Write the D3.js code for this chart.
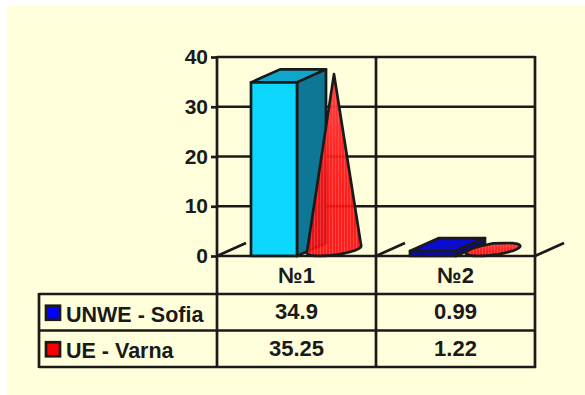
<!DOCTYPE html>
<html>
<head>
<meta charset="utf-8">
<script src="https://cdn.jsdelivr.net/npm/d3@7/dist/d3.min.js"></script>
<style>
  html, body { margin: 0; padding: 0; background: #fff; }
  svg { display: block; }
  text { font-family: "Liberation Sans", Arial, sans-serif; font-weight: 700; fill: #1a1a1a; }
</style>
</head>
<body>
<div id="chart"></div>
<script>
// data
const categories = ["№1", "№2"];
const seriesNames = ["UNWE - Sofia", "UE - Varna"];
const unweValues = [34.9, 0.99];
const varnaValues = [35.25, 1.22];
const cellLabels = [["34.9", "0.99"], ["35.25", "1.22"]];
const yTicks = [0, 10, 20, 30, 40];

const W = 585, H = 395;
const ink = "#1a1a1a";
const lw = 2.7;

const svg = d3.select("#chart").append("svg").attr("width", W).attr("height", H);

// background panel
svg.append("rect").attr("x", 7).attr("y", 6).attr("width", W - 7).attr("height", H - 6).attr("fill", "#ffffdc");

const defs = svg.append("defs");

// vertical stripes on the cones
const stripes = defs.append("pattern")
  .attr("id", "coneStripes")
  .attr("patternUnits", "userSpaceOnUse")
  .attr("width", 3).attr("height", 4);
stripes.append("rect").attr("width", 3).attr("height", 4).attr("fill", "#fa0808");
stripes.append("rect").attr("x", 2).attr("width", 1).attr("height", 4).attr("fill", "#ff3434");

const coneGlow = defs.append("linearGradient")
  .attr("id", "coneGlow")
  .attr("x1", 0).attr("y1", 0).attr("x2", 0).attr("y2", 1);
coneGlow.append("stop").attr("offset", "0%").attr("stop-color", "#ff6060").attr("stop-opacity", 0.7);
coneGlow.append("stop").attr("offset", "60%").attr("stop-color", "#ff3030").attr("stop-opacity", 0.15);
coneGlow.append("stop").attr("offset", "100%").attr("stop-color", "#ff0000").attr("stop-opacity", 0);

// scales
const x0 = d3.scaleBand().domain(categories).range([217, 535]);
const y = d3.scaleLinear().domain([0, 40]).range([256, 57]);
const xInner = d3.scaleBand().domain(seriesNames).range([34, 144]);

const barW = 46;
const depthX = 29, depthY = 13;   // oblique offset of the 3d floor
const tableBottom = 367;
const rowY = d3.scaleBand().domain(seriesNames).range([294, tableBottom]);

// gridlines
svg.append("g").selectAll("line")
  .data(yTicks.filter(d => d > 0))
  .enter().append("line")
  .attr("x1", x0.range()[0]).attr("x2", x0.range()[1])
  .attr("y1", d => y(d)).attr("y2", d => y(d))
  .attr("stroke", ink).attr("stroke-width", lw);

// floor stubs at each column boundary
const columnEdges = categories.map(c => x0(c)).concat(x0.range()[1]);
svg.append("g").selectAll("line")
  .data(columnEdges)
  .enter().append("line")
  .attr("x1", d => d).attr("y1", y(0))
  .attr("x2", d => d + depthX).attr("y2", y(0) - depthY)
  .attr("stroke", ink).attr("stroke-width", lw);

// column + table verticals
svg.append("g").selectAll("line")
  .data(columnEdges)
  .enter().append("line")
  .attr("x1", d => d).attr("x2", d => d)
  .attr("y1", y(40) - 1).attr("y2", tableBottom + 1)
  .attr("stroke", ink).attr("stroke-width", lw);

// y axis ticks + labels
const yAxis = svg.append("g")
  .attr("transform", `translate(${x0.range()[0]},0)`)
  .call(d3.axisLeft(y).tickValues(yTicks).tickSize(6).tickPadding(3));
yAxis.select(".domain").remove();
yAxis.selectAll("line").attr("stroke", ink).attr("stroke-width", lw);
yAxis.selectAll("text").attr("font-size", 21).attr("fill", ink).attr("font-family", '"Liberation Sans", Arial, sans-serif');

// boxes, first series
const boxColors = [
  { front: "#0cd8ff", top: "#0fa6cc", side: "#0f7796" },
  { front: "#0000f5", top: "#0c0ccc", side: "#0a0a9a" }
];
const boxes = svg.append("g");
categories.forEach((c, i) => {
  const left = x0(c) + xInner(seriesNames[0]);
  const right = left + barW;
  const base = y(0), top = y(unweValues[i]);
  const col = boxColors[i];
  const g = boxes.append("g")
    .attr("stroke", ink).attr("stroke-width", lw).attr("stroke-linejoin", "round");
  g.append("path")
    .attr("d", `M${left},${top}L${left + depthX},${top - depthY}L${right + depthX},${top - depthY}L${right},${top}Z`)
    .attr("fill", col.top);
  g.append("path")
    .attr("d", `M${right},${top}L${right + depthX},${top - depthY}L${right + depthX},${base - depthY}L${right},${base}Z`)
    .attr("fill", col.side);
  g.append("rect")
    .attr("x", left).attr("y", top).attr("width", barW).attr("height", base - top)
    .attr("fill", col.front);
});

// cones, second series: base is a circle on the oblique floor
const cones = svg.append("g");
categories.forEach((c, i) => {
  const cx = x0(c) + xInner(seriesNames[1]) + 28;
  const cy = y(0) - depthY / 2;
  const apex = [cx, y(varnaValues[i]) - depthY / 2];
  const rim = d3.range(0, 360, 4).map(a => {
    const t = a * Math.PI / 180;
    return [cx + Math.cos(t) * barW / 2 + Math.sin(t) * depthX / 2,
            cy - Math.sin(t) * depthY / 2];
  });
  const hull = d3.polygonHull(rim.concat([apex]));
  const d = "M" + hull.join("L") + "Z";
  cones.append("path").attr("d", d).attr("fill", "url(#coneStripes)").attr("fill-opacity", 0.9);
  cones.append("path").attr("d", d).attr("fill", "url(#coneGlow)");
  cones.append("path").attr("d", d).attr("fill", "none")
    .attr("stroke", ink).attr("stroke-width", lw).attr("stroke-linejoin", "round");
});

// baseline
svg.append("line")
  .attr("x1", x0.range()[0]).attr("x2", x0.range()[1])
  .attr("y1", y(0)).attr("y2", y(0))
  .attr("stroke", ink).attr("stroke-width", lw);

// data table rows
const tableLeft = 39;
const rowEdges = seriesNames.map(s => rowY(s)).concat(tableBottom);
svg.append("g").selectAll("line")
  .data(rowEdges)
  .enter().append("line")
  .attr("x1", tableLeft).attr("x2", x0.range()[1] + 1)
  .attr("y1", d => d).attr("y2", d => d)
  .attr("stroke", ink).attr("stroke-width", lw);
svg.append("line")
  .attr("x1", tableLeft).attr("x2", tableLeft)
  .attr("y1", rowEdges[0] - 1).attr("y2", tableBottom + 1)
  .attr("stroke", ink).attr("stroke-width", lw);

// category labels
svg.append("g").selectAll("text")
  .data(categories)
  .enter().append("text")
  .attr("x", d => x0(d) + x0.bandwidth() / 2)
  .attr("y", 283)
  .attr("text-anchor", "middle")
  .attr("font-size", 22)
  .text(d => d);

// legend keys + names
const legendColors = ["#0000ff", "#ff0000"];
seriesNames.forEach((s, i) => {
  const mid = rowY(s) + rowY.bandwidth() / 2;
  svg.append("rect")
    .attr("x", 46).attr("y", mid - 6.5).attr("width", 14).attr("height", 14)
    .attr("fill", legendColors[i]).attr("stroke", ink).attr("stroke-width", lw);
  svg.append("text")
    .attr("x", 66).attr("y", mid + 9.5)
    .attr("font-size", 21.5)
    .text(s);
  categories.forEach((c, j) => {
    svg.append("text")
      .attr("x", x0(c) + x0.bandwidth() / 2)
      .attr("y", mid + 7)
      .attr("text-anchor", "middle")
      .attr("font-size", 22)
      .text(cellLabels[i][j]);
  });
});
</script>
</body>
</html>
